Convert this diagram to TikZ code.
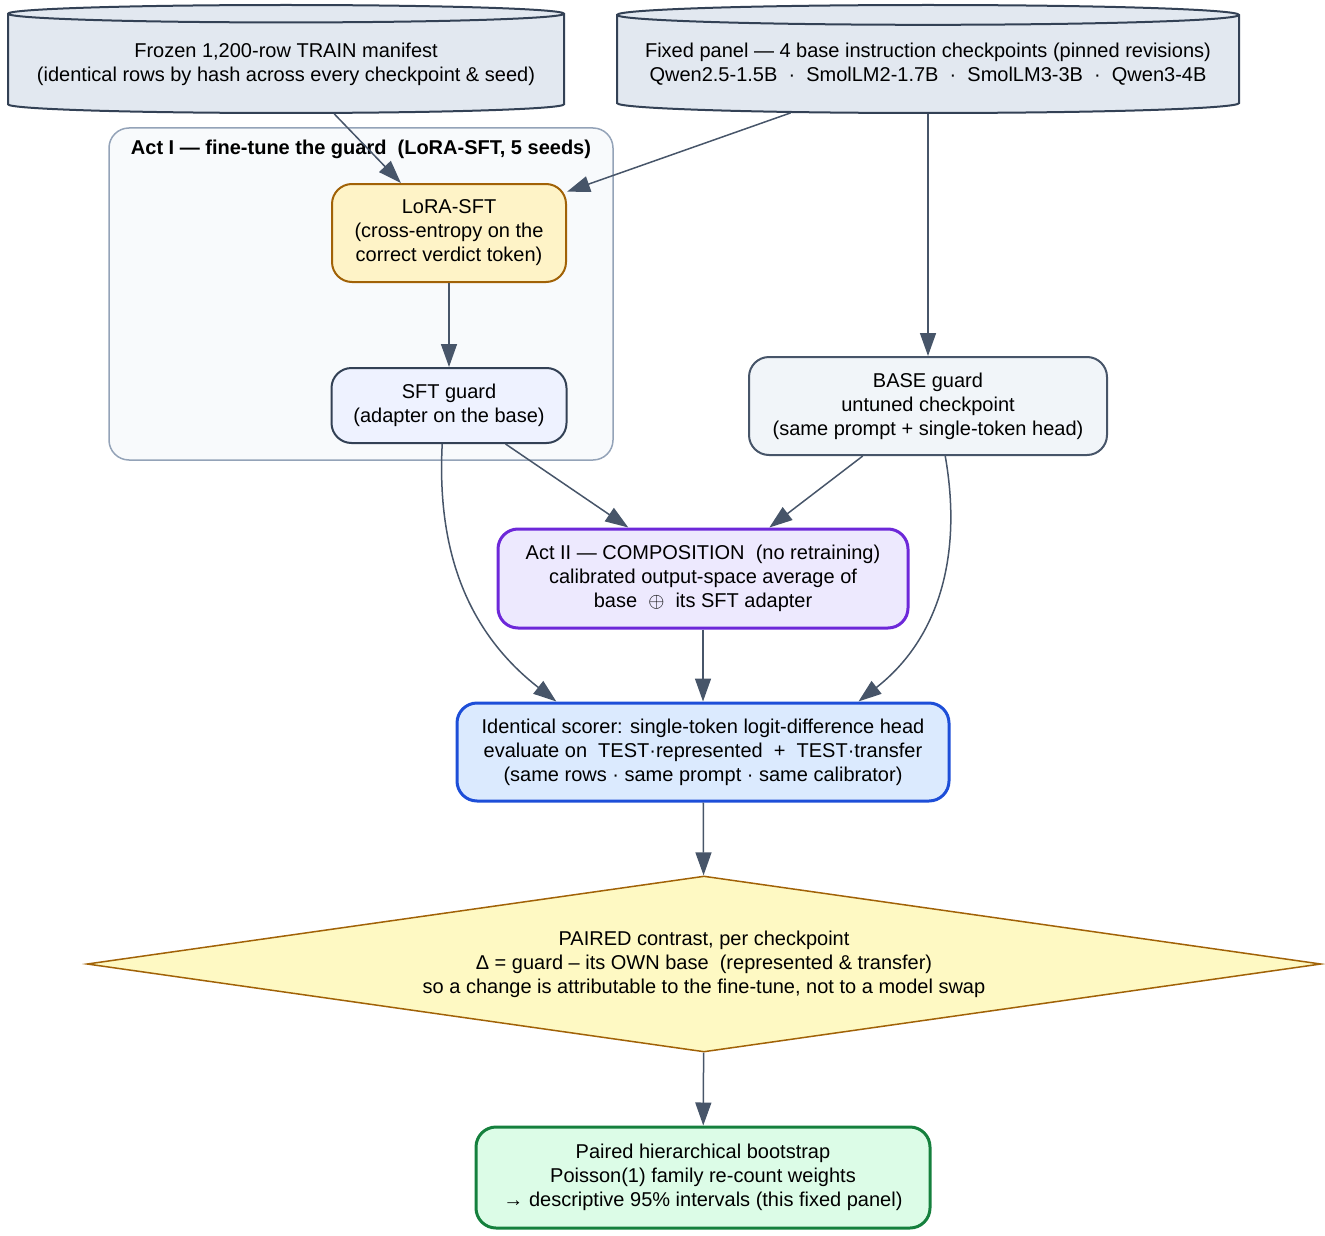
\documentclass[tikz,border=0pt]{standalone}
\usepackage{fontspec}
\setmainfont{Liberation Sans}
\usetikzlibrary{shapes.geometric, arrows.meta}

\definecolor{slate}{HTML}{334155}
\definecolor{edgecol}{HTML}{475569}
\definecolor{storefill}{HTML}{E2E8F0}
\definecolor{clusterbd}{HTML}{94A3B8}
\definecolor{clusterfill}{HTML}{F8FAFC}
\definecolor{lorabd}{HTML}{A16207}
\definecolor{lorafill}{HTML}{FEF3C7}
\definecolor{sftfill}{HTML}{EEF2FF}
\definecolor{basefill}{HTML}{F1F5F9}
\definecolor{compbd}{HTML}{6D28D9}
\definecolor{compfill}{HTML}{EDE9FE}
\definecolor{scorebd}{HTML}{1D4ED8}
\definecolor{scorefill}{HTML}{DBEAFE}
\definecolor{pairfill}{HTML}{FEF9C3}
\definecolor{bootbd}{HTML}{15803D}
\definecolor{bootfill}{HTML}{DCFCE7}

\begin{document}
\begin{tikzpicture}[x = 1pt, y = -1pt, > = {Triangle[length = 23pt, width = 16pt]},
	every node/.style = {font = \fontsize{20}{24}\selectfont, align = center, inner sep = 0pt},
	box/.style = {rectangle, rounded corners = 20pt, draw, line width = 2pt},
	store/.style = {cylinder, shape border rotate = 90, shape aspect = 0.035, anchor = shape center, draw = slate, fill = storefill, line width = 2pt, minimum height = 108pt},
	cluster/.style = {draw = clusterbd, fill = clusterfill, line width = 1.5pt, rounded corners = 20pt},
	edge/.style = {->, draw = edgecol, line width = 1.5pt}]

	% Page

	\useasboundingbox (0, 0) rectangle (1325, 1236);

	% Inputs

	\node [store, minimum width = 556pt] (train) at (286, 59) {Frozen 1,200-row TRAIN manifest\\(identical rows by hash across every checkpoint \& seed)};
	\node [store, minimum width = 622pt] (panel) at (928, 59) {Fixed panel — 4 base instruction checkpoints (pinned revisions)\\Qwen2.5-1.5B~ ·~ SmolLM2-1.7B~ ·~ SmolLM3-3B~ ·~ Qwen3-4B};

	% Act I cluster

	\draw [cluster] (109, 128) rectangle (613, 460);
	\node [font = \bfseries\fontsize{20}{24}\selectfont] (actone) at (361, 149) {Act I — fine-tune the guard~ (LoRA-SFT, 5 seeds)};

	\node [box, draw = lorabd, fill = lorafill, minimum width = 234pt, minimum height = 98pt] (lora) at (449, 233) {LoRA-SFT\\(cross-entropy on the\\correct verdict token)};
	\node [box, draw = slate, fill = sftfill, minimum width = 235pt, minimum height = 75pt] (sft) at (449, 405.5) {SFT guard\\(adapter on the base)};

	% Base, composition, scorer

	\node [box, draw = edgecol, fill = basefill, minimum width = 358pt, minimum height = 98pt] (base) at (928, 406) {BASE guard\\untuned checkpoint\\(same prompt + single-token head)};
	\node [box, draw = compbd, fill = compfill, line width = 3pt, minimum width = 410pt, minimum height = 99pt] (comp) at (703, 578.5) {Act II — COMPOSITION~ (no retraining)\\calibrated output-space average of\\base~ $\oplus$~ its SFT adapter};
	\node [box, draw = scorebd, fill = scorefill, line width = 3pt, minimum width = 492pt, minimum height = 98pt] (scorer) at (703, 752) {Identical scorer: single-token logit-difference head\\evaluate on~ TEST·represented~ +~ TEST·transfer\\(same rows · same prompt · same calibrator)};

	% Contrast and bootstrap

	\node [diamond, aspect = 7, draw = lorabd, fill = pairfill, line width = 1.5pt, minimum width = 1234pt, minimum height = 176pt] (pair) at (704, 964) {PAIRED contrast, per checkpoint\\Δ = guard – its OWN base~ (represented \& transfer)\\so a change is attributable to the fine-tune, not to a model swap};
	\node [box, draw = bootbd, fill = bootfill, line width = 3pt, minimum width = 454pt, minimum height = 101pt] (boot) at (703, 1177.5) {Paired hierarchical bootstrap\\Poisson(1) family re-count weights\\→ descriptive 95\% intervals (this fixed panel)};

	% Connectors

	\draw [edge] (train) -- (lora);
	\draw [edge] (panel) -- (lora);
	\draw [edge] (panel) -- (base);
	\draw [edge] (lora) -- (sft);
	\draw [edge] (sft) -- (comp);
	\draw [edge] (base) -- (comp);
	\draw [edge] (comp) -- (scorer);
	\draw [edge] (sft.260) to [out = -93, in = 142] (scorer.161);
	\draw [edge] (base.289) to [out = -80, in = 38] (scorer.18);
	\draw [edge] (scorer) -- (pair);
	\draw [edge] (pair) -- (boot);

\end{tikzpicture}
\end{document}
